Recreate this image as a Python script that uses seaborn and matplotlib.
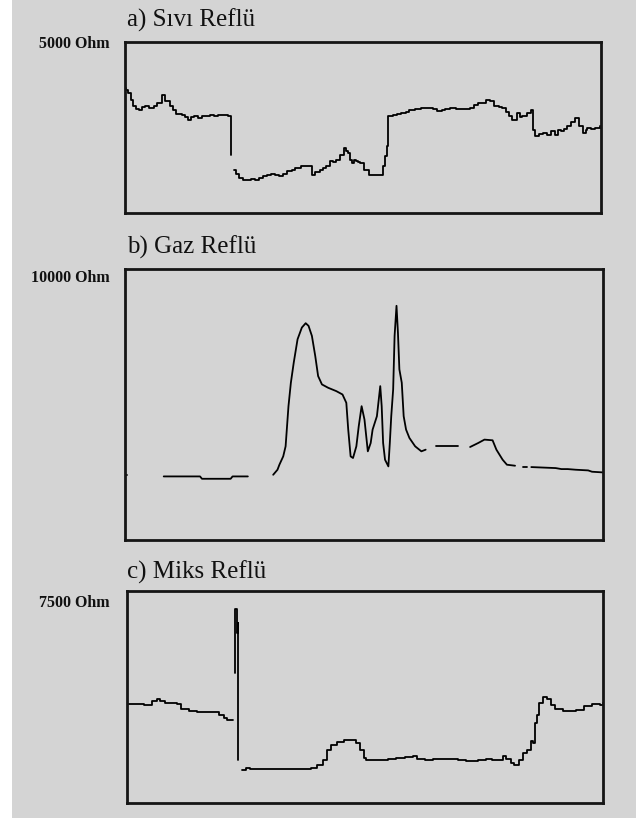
import numpy as np
import pandas as pd
import matplotlib
matplotlib.use("Agg")
import matplotlib.pyplot as plt
from matplotlib.patches import Rectangle
import seaborn as sns

sns.set_theme(style="white")
plt.rcParams["font.family"] = ["Liberation Serif", "DejaVu Serif"]

BG = "#d4d4d4"

# --- a) Sıvı Reflü : resistance trace (Ohm), segments split where the record has gaps
sivi_t = [
    [0.0, 0.3, 0.7, 1.2, 1.7, 2.3, 3.0, 3.6, 4.3, 5.0, 6.0, 6.8, 7.7, 8.5, 9.4, 10.1,
     10.7, 11.9, 12.5, 13.2, 13.8, 14.5, 15.3, 16.2, 17.0, 17.9, 18.8, 19.6, 20.9,
     21.7, 22.3, 22.3],
    [22.8, 23.3, 23.9, 24.7, 25.6, 26.4, 27.3, 28.1, 29.0, 29.8, 30.7, 31.5, 32.4,
     33.2, 34.1, 35.0, 35.8, 37.0, 38.4, 39.2, 40.0, 40.9, 41.5, 42.2, 43.1, 43.7,
     44.3, 45.2, 46.0, 46.5, 46.9, 47.3, 47.7, 48.2, 48.6, 49.0, 49.4, 50.3, 51.2,
     53.3, 54.1, 54.6, 55.0, 55.2, 56.3, 57.2, 58.0, 59.0, 59.7, 61.0, 62.2, 63.9,
     64.8, 65.6, 66.5, 67.3, 68.2, 69.5, 70.8, 72.5, 73.3, 74.2, 75.9, 76.7, 77.6,
     78.5, 79.3, 80.0, 80.6, 81.4, 82.3, 82.9, 83.5, 84.4, 85.3, 85.7, 86.1, 87.0,
     87.8, 88.6, 89.5, 90.4, 91.0, 91.6, 92.3, 92.9, 93.8, 94.6, 95.4, 96.3, 96.8,
     97.1, 98.0, 98.8, 99.7, 100.0],
]
sivi_ohm = [
    [3650, 3606, 3509, 3300, 3119, 3050, 3021, 3100, 3119, 3080, 3119, 3216, 3460,
     3265, 3119, 3000, 2904, 2875, 2800, 2729, 2800, 2827, 2780, 2827, 2850, 2856,
     2830, 2875, 2875, 2846, 2729, 1706],
    [1267, 1150, 1023, 975, 975, 1000, 975, 1030, 1072, 1110, 1150, 1100, 1092, 1150,
     1218, 1270, 1316, 1364, 1364, 1121, 1200, 1267, 1330, 1364, 1511, 1480, 1559,
     1706, 1900, 1800, 1754, 1560, 1462, 1540, 1511, 1480, 1462, 1267, 1121, 1121,
     1364, 1657, 1949, 2827, 2875, 2900, 2924, 2950, 3021, 3040, 3070, 3070, 3050,
     2973, 3021, 3050, 3070, 3040, 3041, 3070, 3150, 3216, 3314, 3265, 3119, 3100,
     3070, 2950, 2827, 2729, 2924, 2800, 2827, 2924, 3021, 2437, 2242, 2300, 2339,
     2280, 2388, 2290, 2420, 2388, 2450, 2534, 2650, 2778, 2534, 2339, 2420, 2485,
     2460, 2485, 2534, 2485],
]

# --- b) Gaz Reflü
gaz_t = [
    [0.0, 0.5],
    [8.1, 15.7, 16.1, 22.1, 22.5, 25.7],
    [31.0, 31.9, 32.3, 33.1, 33.6, 33.8, 34.2, 34.7, 35.3, 36.1, 37.0, 37.8, 38.4,
     39.1, 39.8, 40.4, 41.2, 42.5, 44.2, 45.5, 46.3, 46.7, 47.2, 47.7, 48.4, 48.9,
     49.5, 50.1, 50.8, 51.4, 51.8, 52.7, 53.4, 53.7, 54.0, 54.4, 55.1, 55.4, 55.7,
     56.1, 56.4, 56.8, 57.1, 57.4, 57.9, 58.3, 58.8, 59.5, 60.7, 62.0, 62.9],
    [65.0, 69.7],
    [72.2, 73.9, 75.2, 76.9, 77.7, 79.0, 79.9, 81.6],
    [83.3, 84.0],
    [85.0, 90.1, 91.3, 92.6, 94.3, 96.9, 97.7, 100.0],
]
gaz_ohm = [
    [2407, 2407],
    [2346, 2346, 2259, 2259, 2346, 2346],
    [2407, 2593, 2778, 3086, 3457, 3951, 4938, 5802, 6543, 7407, 7840, 8000, 7901,
     7531, 6790, 6049, 5741, 5617, 5494, 5370, 5062, 4074, 3086, 3025, 3457, 4198,
     4938, 4444, 3272, 3580, 4074, 4568, 5679, 4938, 3580, 2963, 2716, 3580, 4568,
     5556, 7531, 8642, 7654, 6296, 5802, 4568, 4074, 3765, 3457, 3272, 3333],
    [3481, 3481],
    [3432, 3580, 3704, 3679, 3333, 2963, 2778, 2741],
    [2691, 2691],
    [2691, 2654, 2617, 2617, 2593, 2568, 2519, 2494],
]

# --- c) Miks Reflü
miks_t = [
    [0.0, 3.2, 3.6, 5.3, 6.2, 7.0, 7.9, 10.4, 11.3, 13.0, 14.7, 18.1, 19.4, 20.3,
     21.1, 22.2],
    [22.7, 22.7, 23.1, 23.1, 23.4, 23.4],
    [24.1, 25.0, 25.8, 28.4, 32.7, 37.0, 38.7, 39.9, 41.2, 42.1, 42.9, 44.2, 45.5,
     47.2, 48.1, 48.9, 49.8, 50.2, 52.4, 54.9, 56.6, 58.3, 60.1, 60.9, 62.6, 64.3,
     66.9, 69.5, 71.2, 73.7, 75.4, 76.7, 78.9, 79.7, 80.6, 81.4, 82.3, 83.1, 84.0,
     84.9, 85.3, 85.7, 86.1, 86.6, 87.4, 88.3, 89.1, 90.0, 91.7, 94.3, 96.0, 97.7,
     98.5, 99.4, 100.0],
]
miks_ohm = [
    [3520, 3520, 3484, 3602, 3685, 3602, 3543, 3520, 3331, 3272, 3213, 3213, 3130,
     3012, 2953, 2929],
    [4606, 6874, 6874, 6024, 6378, 1535],
    [1181, 1240, 1205, 1205, 1205, 1205, 1240, 1358, 1535, 1890, 2067, 2150, 2220,
     2220, 2126, 1890, 1594, 1512, 1512, 1559, 1594, 1630, 1654, 1559, 1535, 1559,
     1559, 1535, 1500, 1535, 1559, 1512, 1654, 1559, 1417, 1358, 1535, 1772, 1890,
     2185, 2126, 2835, 3130, 3543, 3756, 3685, 3484, 3331, 3272, 3307, 3425, 3520,
     3520, 3484, 3543],
]

titles = ["a) Sıvı Reflü", "b) Gaz Reflü", "c) Miks Reflü"]
scale_labels = ["5000 Ohm", "10000 Ohm", "7500 Ohm"]
full_scale = [5000, 10000, 7500]


def to_frame(times, values):
    rows = []
    for seg, (ts, vs) in enumerate(zip(times, values)):
        for t, v in zip(ts, vs):
            rows.append({"t": t, "ohm": v, "seg": seg})
    return pd.DataFrame(rows)


W, H = 636, 818
fig = plt.figure(figsize=(W / 100, H / 100), dpi=100, facecolor="white")
fig.patches.append(Rectangle((12 / W, 0), 1 - 12 / W, 1, transform=fig.transFigure,
                             facecolor=BG, edgecolor="none", zorder=-10))

# panel boxes in pixels: (left, top, right, bottom)
boxes = [(125, 42, 601, 213), (125, 269, 603, 540), (127, 591, 603, 803)]
title_y = [20, 247, 572]
label_y = [44, 278, 603]
steps = ["steps-post", "default", "steps-post"]

datasets = [(sivi_t, sivi_ohm), (gaz_t, gaz_ohm), (miks_t, miks_ohm)]

for i, ((ts, vs), (l, t, r, b)) in enumerate(zip(datasets, boxes)):
    ax = fig.add_axes([l / W, 1 - b / H, (r - l) / W, (b - t) / H])
    ax.set_facecolor(BG)
    df = to_frame(ts, vs)
    sns.lineplot(data=df, x="t", y="ohm", units="seg", estimator=None, sort=False,
                 color="black", linewidth=1.3, drawstyle=steps[i], ax=ax)
    ax.set_xlim(0, 100)
    ax.set_ylim(0, full_scale[i])
    ax.set_xticks([])
    ax.set_yticks([])
    ax.set_xlabel("")
    ax.set_ylabel("")
    for sp in ax.spines.values():
        sp.set_visible(True)
        sp.set_color("#151515")
        sp.set_linewidth(2.0)
    fig.text(127 / W, 1 - title_y[i] / H, titles[i], fontsize=18,
             ha="left", va="center", color="#111111")
    fig.text(110 / W, 1 - label_y[i] / H, scale_labels[i], fontsize=11.5,
             fontweight="bold", ha="right", va="center", color="#111111")

fig.savefig("out.png", dpi=100, facecolor=fig.get_facecolor())
